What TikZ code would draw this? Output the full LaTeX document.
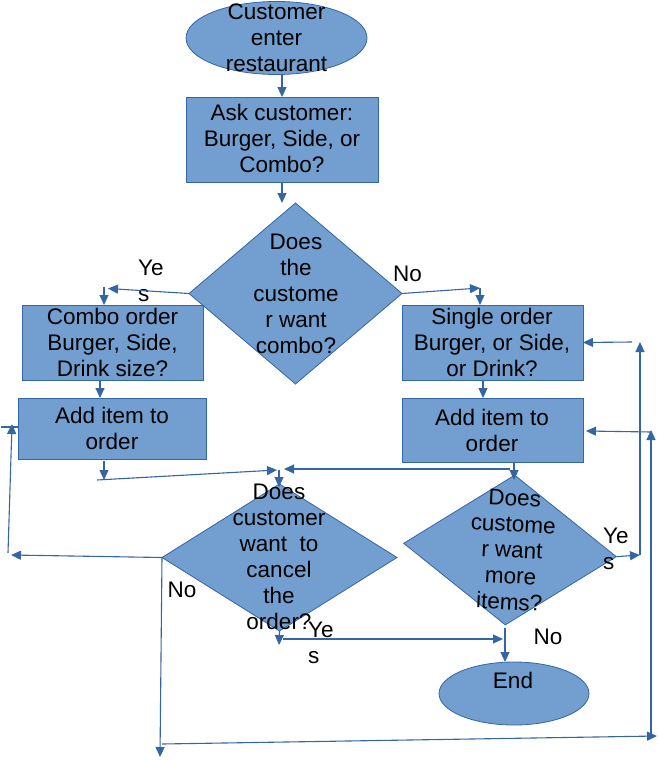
\documentclass[tikz,border=0pt]{standalone}
\usepackage{fontspec}
\setmainfont{Liberation Sans}
\usetikzlibrary{shapes.geometric,arrows.meta}
\definecolor{fl}{HTML}{729FCF}
\definecolor{ln}{HTML}{3465A4}
\tikzset{
  shapebase/.style={draw=ln, fill=fl, line width=0.8pt, inner sep=0pt, outer sep=0pt},
  boxnode/.style={shapebase, rectangle},
  ovalnode/.style={shapebase, ellipse},
  decnode/.style={shapebase, diamond},
  txt/.style={align=center, inner sep=0pt, font=\fontsize{22.5}{26}\selectfont},
  lbl/.style={align=left, inner sep=0pt, font=\fontsize{22.5}{26}\selectfont},
  conn/.style={draw=ln, line width=1.1pt},
  arr/.style={conn, -{Triangle[length=10pt,width=9pt]}}
}
\begin{document}
\begin{tikzpicture}[x=1pt,y=-1pt]
\useasboundingbox (0,0) rectangle (658,760);
% shapes
\node[ovalnode, minimum width=181pt, minimum height=73pt] (start) at (276.5,38) {};
\node[boxnode, minimum width=192pt, minimum height=85pt] (ask) at (282,139.5) {};
\node[decnode, minimum width=213pt, minimum height=181pt] (d1) at (295.5,293.5) {};
\node[boxnode, minimum width=181pt, minimum height=75pt] (combo) at (112.5,342.5) {};
\node[boxnode, minimum width=188pt, minimum height=61pt] (addL) at (112,428.5) {};
\node[boxnode, minimum width=181pt, minimum height=75pt] (single) at (492.5,342.5) {};
\node[boxnode, minimum width=181pt, minimum height=64pt] (addR) at (492.5,430) {};
\node[decnode, minimum width=235pt, minimum height=147pt] (d2) at (279.5,557.5) {};
\node[decnode, minimum width=213pt, minimum height=150pt, rotate=-3.6] (d3) at (510,550) {};
\node[ovalnode, minimum width=150pt, minimum height=63pt] (endn) at (514,693.5) {};
% texts
\node[txt] (tstart) at (276.5,38) {Customer\\enter\\restaurant};
\node[txt] (task) at (282,138) {Ask customer:\\Burger, Side, or\\Combo?};
\node[txt] (td1) at (296,294) {Does\\the\\custome\\r want\\combo?};
\node[txt] (tcombo) at (112.5,342) {Combo order\\Burger, Side,\\Drink size?};
\node[txt] (taddL) at (112,428) {Add item to\\order};
\node[txt] (tsingle) at (492,342) {Single order\\Burger, or Side,\\or Drink?};
\node[txt] (taddR) at (492,430) {Add item to\\order};
\node[txt] (td2) at (279,557) {Does\\customer\\want\ \ to\\cancel\\the\\order?};
\node[txt, rotate=-3] (td3) at (512,550) {Does\\custome\\r want\\more\\items?};
\node[txt] (tend) at (513,680) {End};
% labels
\node[lbl, anchor=north west] (ye1) at (138,260) {Ye\\s};
\node[lbl, anchor=north west] (ye2) at (603,528) {Ye\\s};
\node[lbl, anchor=north west] (ye3) at (308,622) {Ye\\s};
\node[txt] (no1) at (407.5,274) {No};
\node[txt] (no2) at (182,590) {No};
\node[txt] (no3) at (548,637) {No};
% coordinates
\coordinate (yTip) at (108,288.5);
\coordinate (yDrop) at (104,287);
\coordinate (cDrop) at (100,380);
\coordinate (aDrop) at (104,461);
\coordinate (aLow) at (104,480);
\coordinate (jL) at (97,480);
\coordinate (jLTip) at (277,470);
\coordinate (jDrop) at (279,470);
\coordinate (jDropTip) at (279,487);
\coordinate (jR) at (510,469);
\coordinate (jRTip) at (284,469);
\coordinate (rDrop) at (514,462);
\coordinate (rDropTip) at (514,480);
\coordinate (nTip) at (480,288);
\coordinate (sDrop) at (483,380);
\coordinate (yesR) at (640,555);
\coordinate (upR) at (640,342);
\coordinate (upRh) at (632,342);
\coordinate (far) at (651,738);
\coordinate (farTop) at (651,430);
\coordinate (farH) at (651,432);
\coordinate (farHTip) at (586,431);
\coordinate (leftTip) at (11,555);
\coordinate (downTip) at (160,757);
\coordinate (leftBot) at (8,553);
\coordinate (leftTop) at (12,424);
\coordinate (stubA) at (1,427);
\coordinate (stubB) at (18,427);
\coordinate (botL) at (162,744);
\coordinate (botR) at (657,736);
\coordinate (cancTip) at (279,645);
\coordinate (yesH) at (283,639);
\coordinate (yesHTip) at (503,639);
\coordinate (moreBot) at (505,628);
% connectors
\draw[arr] (ask.north |- start.south) -- (ask.north);
\draw[arr] (ask.south) -- (ask.south |- d1.north);
\draw[arr] (d1.west) -- (yTip);
\draw[arr] (yDrop) -- (yDrop |- combo.north);
\draw[arr] (cDrop) -- (cDrop |- addL.north);
\draw[arr] (aDrop) -- (aLow);
\draw[arr] (jL) -- (jLTip);
\draw[arr] (jDrop) -- (jDropTip);
\draw[arr] (jR) -- (jRTip);
\draw[arr] (rDrop) -- (rDropTip);
\draw[arr] (d1.east) -- (nTip);
\draw[arr] (nTip) -- (nTip |- single.north);
\draw[arr] (sDrop) -- (sDrop |- addR.north);
\draw[arr] (d3.east) -- (yesR);
\draw[arr] (yesR) -- (upR);
\draw[arr] (upRh) -- (single.east);
\draw[arr] (far) -- (farTop);
\draw[arr] (farH) -- (farHTip);
\draw[arr] (d2.west) -- (leftTip);
\draw[arr] (d2.west) -- (downTip);
\draw[arr] (leftBot) -- (leftTop);
\draw[conn] (stubA) -- (stubB);
\draw[arr] (botL) -- (botR);
\draw[arr] (d2.south) -- (cancTip);
\draw[arr] (yesH) -- (yesHTip);
\draw[arr] (moreBot) -- (moreBot |- endn.north);
\end{tikzpicture}
\end{document}
